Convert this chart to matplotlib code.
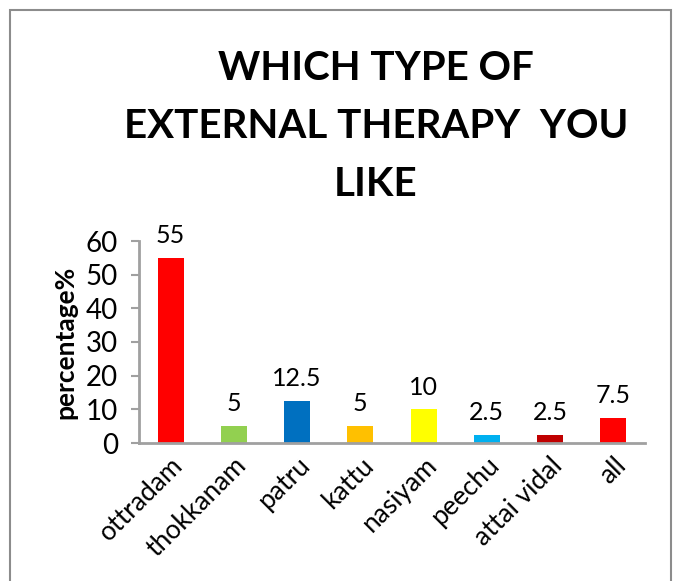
import matplotlib
matplotlib.use("Agg")
import matplotlib.pyplot as plt
from matplotlib.patches import Rectangle

# ── Data ───────────────────────────────────────────────────────────────────────
categories = ["ottradam", "thokkanam", "patru", "kattu", "nasiyam",
              "peechu", "attai vidal", "all"]
values     = [55, 5, 12.5, 5, 10, 2.5, 2.5, 7.5]
labels     = ["55", "5", "12.5", "5", "10", "2.5", "2.5", "7.5"]
colors     = ["#FF0000", "#92D050", "#0070C0", "#FFC000", "#FFFF00",
              "#00B0F0", "#C00000", "#FF0000"]
yticks     = [0, 10, 20, 30, 40, 50, 60]

plt.rcParams["font.family"] = ["Lato", "DejaVu Sans"]

W, H = 694, 581
fig = plt.figure(figsize=(W / 100, H / 100), dpi=100)

# outer chart border (bottom edge runs off the image)
fig.patches.append(Rectangle((10 / W, -0.05), 661 / W, 1 - 10 / H + 0.05,
                             transform=fig.transFigure, fill=False,
                             edgecolor="#8C8C8C", linewidth=1.5))

ax = fig.add_axes([139 / W, 1 - 443 / H, (645 - 139) / W, (443 - 241) / H])

x = range(len(categories))
ax.bar(x, values, width=0.41, color=colors)
for xi, v, lab in zip(x, values, labels):
    ax.text(xi, v + 3.2, lab, ha="center", va="bottom", fontsize=18)

ax.set_xlim(-0.5, len(categories) - 0.5)
ax.set_ylim(0, 60)
ax.set_yticks(yticks)
ax.tick_params(axis="y", labelsize=20, length=6, width=1.5, color="#A0A0A0", pad=9)
ax.tick_params(axis="x", length=0, labelsize=19, pad=7)
ax.set_xticks(list(x))
ax.set_xticklabels(categories, rotation=45, ha="right", rotation_mode="anchor")

for s in ["top", "right"]:
    ax.spines[s].set_visible(False)
for s in ["left", "bottom"]:
    ax.spines[s].set_color("#A0A0A0")
    ax.spines[s].set_linewidth(2)

ax.set_ylabel("percentage%", fontsize=19, fontweight="bold", labelpad=6)

fig.text(376 / W, 1 - 127 / H, "WHICH TYPE OF\nEXTERNAL THERAPY  YOU\nLIKE",
         ha="center", va="center", fontsize=29, fontweight="bold",
         linespacing=1.7)

fig.savefig("out.png", dpi=100)
